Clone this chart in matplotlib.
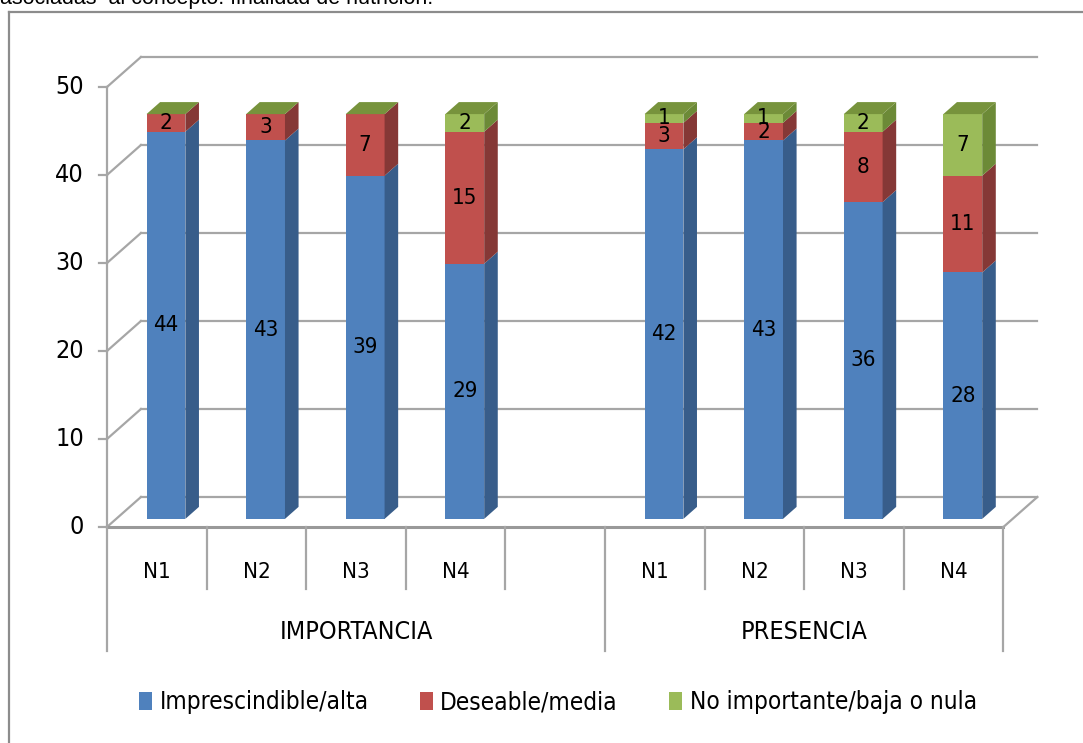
import matplotlib
matplotlib.use('Agg')
import matplotlib.pyplot as plt
from matplotlib.patches import Polygon, Patch
from matplotlib.lines import Line2D

# datos
grupos = ['IMPORTANCIA', 'PRESENCIA']
niveles_imp = ['N1', 'N2', 'N3', 'N4', '']   # hueco al final del primer grupo
niveles_pre = ['N1', 'N2', 'N3', 'N4']
series = ['Imprescindible/alta', 'Deseable/media', 'No importante/baja o nula']

imp_alta = [44, 43, 39, 29]
imp_media = [2, 3, 7, 15]
imp_baja = [0, 0, 0, 2]

pre_alta = [42, 43, 36, 28]
pre_media = [3, 2, 8, 11]
pre_baja = [1, 1, 2, 7]

y_ticks = [0, 10, 20, 30, 40, 50]

# colores (frente, lateral, tapa)
col_frente = ['#4F81BD', '#C0504D', '#9BBB59']
col_lado = ['#385D8A', '#853836', '#6C8A37']
col_tapa = ['#5B8AC4', '#C9605D', '#77933C']
gris = '#A6A6A6'

plt.rcParams['font.family'] = 'DejaVu Sans'
plt.rcParams['font.stretch'] = 'condensed'

fig = plt.figure(figsize=(10.83, 7.43), dpi=100)
ax = fig.add_axes([0, 0, 1, 1])
ax.set_xlim(-1.074, 9.799)
ax.set_ylim(-24.545, 59.886)
ax.axis('off')

# profundidad del efecto 3D
dx, dy = 0.341, 3.41
d0, d1 = 0.27, 0.67
ancho = 0.39
n_slots = len(niveles_imp) + len(niveles_pre)

# paredes: lineas de cuadricula
for v in y_ticks:
    ax.plot([dx, n_slots + dx], [v + dy, v + dy], color=gris, lw=1.6, zorder=1)
    ax.plot([0, dx], [v, v + dy], color=gris, lw=1.6, zorder=1)
    ax.plot([-0.08, 0], [v, v], color=gris, lw=1.6, zorder=1)
    ax.text(-0.23, v, str(v), ha='right', va='center', fontsize=18)
ax.plot([0, 0], [0, y_ticks[-1]], color=gris, lw=1.6, zorder=1)

# suelo
ax.plot([0, n_slots], [0, 0], color='#999999', lw=2.2, zorder=1)
ax.plot([n_slots, n_slots + dx], [0, dy], color=gris, lw=1.6, zorder=1)

# separadores de categorias
for i in range(n_slots + 1):
    largo = i in (0, len(niveles_imp), n_slots)
    ax.plot([i, i], [0, -14.1 if largo else -7.05], color=gris, lw=1.6, zorder=1)

etiquetas = niveles_imp + niveles_pre
for i, lab in enumerate(etiquetas):
    if lab:
        ax.text(i + 0.5, -5.1, lab, ha='center', va='center', fontsize=16)
ax.text(len(niveles_imp) / 2, -11.9, grupos[0], ha='center', va='center', fontsize=18)
ax.text(len(niveles_imp) + len(niveles_pre) / 2, -11.9, grupos[1], ha='center', va='center', fontsize=18)


def barra(pos, valores):
    xl = pos + 0.5 + d0 * dx - ancho / 2
    xr = xl + ancho
    ddx, ddy = (d1 - d0) * dx, (d1 - d0) * dy
    base = 0
    for k, v in enumerate(valores):
        b0, t0 = base + d0 * dy, base + v + d0 * dy
        ax.add_patch(Polygon([(xl, b0), (xr, b0), (xr, t0), (xl, t0)],
                             closed=True, fc=col_frente[k], ec='none', zorder=3))
        ax.add_patch(Polygon([(xr, b0), (xr + ddx, b0 + ddy), (xr + ddx, t0 + ddy), (xr, t0)],
                             closed=True, fc=col_lado[k], ec='none', zorder=3))
        if v:
            ax.text((xl + xr) / 2, base + v / 2 + d0 * dy, str(v),
                    ha='center', va='center', fontsize=16, zorder=5)
        base += v
    t0 = base + d0 * dy
    ax.add_patch(Polygon([(xl, t0), (xr, t0), (xr + ddx, t0 + ddy), (xl + ddx, t0 + ddy)],
                         closed=True, fc=col_tapa[-1], ec='none', zorder=3))


for i in range(len(imp_alta)):
    barra(i, [imp_alta[i], imp_media[i], imp_baja[i]])
for i in range(len(pre_alta)):
    barra(len(niveles_imp) + i, [pre_alta[i], pre_media[i], pre_baja[i]])

# leyenda
handles = [Patch(fc=c, ec='none') for c in col_frente]
ax.legend(handles, series, loc='center', bbox_to_anchor=(0.515, 0.055),
          bbox_transform=fig.transFigure, ncol=3, frameon=False, fontsize=17.5,
          handlelength=0.55, handleheight=0.78, handletextpad=0.3, columnspacing=2.1)

# marco y texto superior recortado
fig.add_artist(Line2D([9 / 1083, 9 / 1083], [0, 1 - 12 / 743], transform=fig.transFigure,
                      color='#8C8C8C', lw=1.6))
fig.add_artist(Line2D([9 / 1083, 1], [1 - 12 / 743, 1 - 12 / 743], transform=fig.transFigure,
                      color='#8C8C8C', lw=1.6))
fig.text(0.0, 1 - 4 / 743, 'asociadas  al concepto: finalidad de nutrición.', va='baseline',
         fontsize=15.5, family='Liberation Sans', stretch='normal')

fig.savefig('out.png', dpi=100)
